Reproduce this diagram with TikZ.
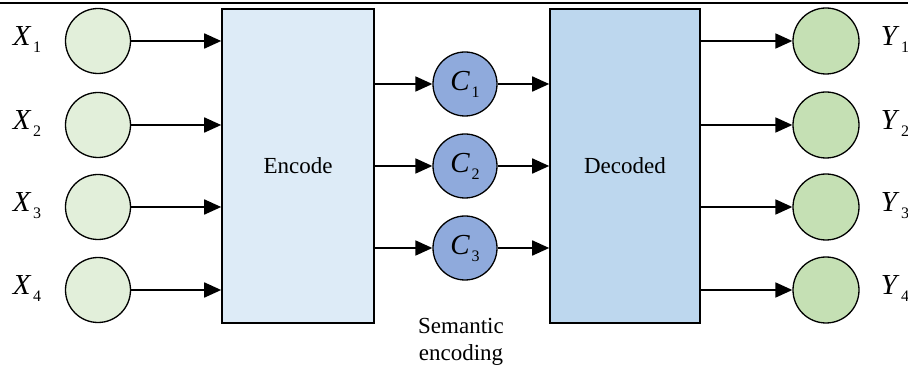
\documentclass[tikz,border=0pt]{standalone}
\usepackage{fontspec}
\setmainfont{Liberation Serif}
\usepackage{tikz}
\usetikzlibrary{arrows.meta}
\usetikzlibrary{positioning}

\definecolor{ingreen}{HTML}{E2EFDA}
\definecolor{outgreen}{HTML}{C5E0B4}
\definecolor{encblue}{HTML}{DDEBF7}
\definecolor{decblue}{HTML}{BDD7EE}
\definecolor{codeblue}{HTML}{8FAADC}

\tikzset{inc/.style={circle,fill=ingreen,draw=black,line width=1.3pt,minimum size=65pt,inner sep=0pt}}
\tikzset{outc/.style={circle,fill=outgreen,draw=black,line width=1.3pt,minimum size=66pt,inner sep=0pt}}
\tikzset{codec/.style={circle,fill=codeblue,draw=black,line width=1.3pt,minimum size=64pt,inner sep=0pt}}
\tikzset{block/.style={rectangle,draw=black,line width=1.6pt,minimum height=314pt,inner sep=0pt}}
\tikzset{arr/.style={line width=1.8pt,-{Triangle[length=17pt,width=15pt]}}}
\tikzset{lbl/.style={inner sep=0pt,font=\fontsize{23}{27}\selectfont}}
\tikzset{symlbl/.style={inner sep=0pt,font=\fontsize{29}{30}\selectfont}}

% italic symbol with a lowered index
\newcommand{\symb}[2]{\textit{#1}\kern1.5pt\raisebox{-7pt}{\fontsize{16}{16}\selectfont #2}}

\begin{document}
\begin{tikzpicture}[x=1pt,y=-1pt]
\useasboundingbox (0,0) rectangle (908,371);
\draw[line width=1.5pt] (0,3) -- (908,3);

 \node[block,fill=encblue,minimum width=152pt] (enc) at (298,166) {};
 \node[lbl] at (enc) {Encode};
 \node[block,fill=decblue,minimum width=150pt] (dec) at (625,166) {};
 \node[lbl] at (dec) {Decoded};

\foreach \k/\y in {1/41, 2/125, 3/207, 4/290}{
             \node[inc] (x\k) at (98,\y) {};
             \node[symlbl] (xl\k) at (27,\y-1) {\symb{X}{\k}};
             \draw[arr] (x\k) -- (x\k -| enc.west);
             \node[outc] (y\k) at (826,\y) {};
             \node[symlbl] (yl\k) at (895,\y-1) {\symb{Y}{\k}};
             \draw[arr] (y\k -| dec.east) -- (y\k);
             }

\foreach \k/\y in {1/84, 2/166, 3/248}{
             \node[codec] (c\k) at (465,\y) {};
             \node[symlbl] at (c\k) {\symb{C}{\k}};
             \draw[arr] (enc.east |- c\k) -- (c\k);
             \draw[arr] (c\k) -- (c\k -| dec.west);
             }

 \node[lbl,align=center] (sem) at (461,342) {Semantic\\encoding};

\end{tikzpicture}
\end{document}
